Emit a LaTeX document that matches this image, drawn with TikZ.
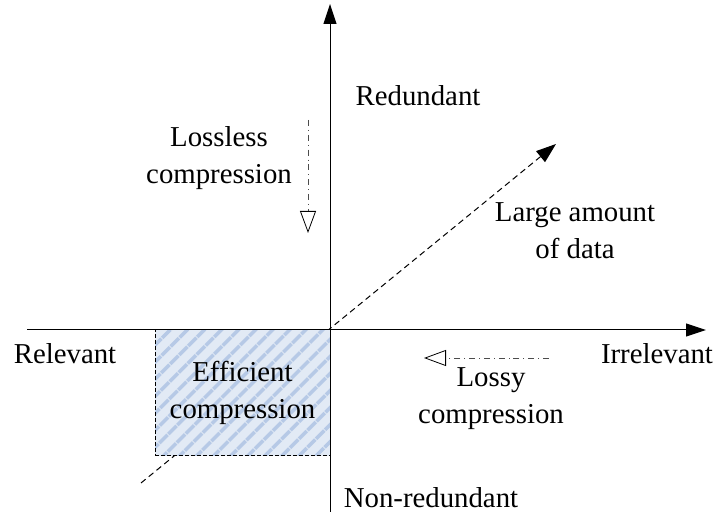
\documentclass[tikz,border=0pt]{standalone}
\usepackage{fontspec}
\setmainfont{Liberation Serif}
\usetikzlibrary{arrows.meta,positioning,patterns.meta}
\definecolor{boxfill}{HTML}{E2EAF5}
\definecolor{stripe}{HTML}{B6C9E6}

\begin{document}
\begin{tikzpicture}[x=0.5pt, y=0.5pt,
  lbl/.style={align=center, font=\fontsize{14.4}{18.5}\selectfont, inner sep=0pt},
  axis/.style={line width=0.5pt, -{Triangle[length=10pt, width=6.5pt]}},
  diag/.style={densely dashed, line width=0.5pt, -{Triangle[length=10pt, width=7pt]}},
  hint/.style={dash dot, line width=0.4pt, black!70, -{Triangle[open, length=11pt, width=8pt, fill=white, black]}},
  effbox/.style={draw, densely dotted, line width=0.5pt, minimum width=87.5pt, minimum height=63pt,
    preaction={fill=boxfill}, pattern={Lines[angle=45, distance=6.5pt, line width=2pt]}, pattern color=stripe,
    align=center, font=\fontsize{14.4}{18.5}\selectfont, inner sep=0pt}
]
  \useasboundingbox (0,0) rectangle (715,512);

  % axes ends
  \coordinate (xl) at (27,182);
  \coordinate (xr) at (706,182);
  \coordinate (yb) at (330,0);
  \coordinate (yt) at (330,508);
  \coordinate (dl) at (141,29);
  \coordinate (dr) at (556,368);

  \draw[diag] (dl) -- (dr);
  \node[effbox] (eff) at (242.5,119) {Efficient\\compression};
  \draw[axis] (xl) -- (xr);
  \draw[axis] (yb) -- (yt);

  % labels
  \node[lbl] (red) at (418,416) {Redundant};
  \node[lbl] (nonred) at (431,14) {Non-redundant};
  \node[lbl] (rel) at (65,158) {Relevant};
  \node[lbl] (irr) at (657,158) {Irrelevant};
  \node[lbl] (lossless) at (219,354) {Lossless\\compression};
  \node[lbl] (lossy) at (491,113) {Lossy\\compression};
  \node[lbl] (large) at (575,281) {Large amount\\of data};

  % direction hints
  \coordinate (lla) at (308,392);
  \coordinate (llb) at (308,279);
  \coordinate (lya) at (549,154);
  \coordinate (lyb) at (424,154);
  \draw[hint] (lla) -- (llb);
  \draw[hint] (lya) -- (lyb);
\end{tikzpicture}
\end{document}
